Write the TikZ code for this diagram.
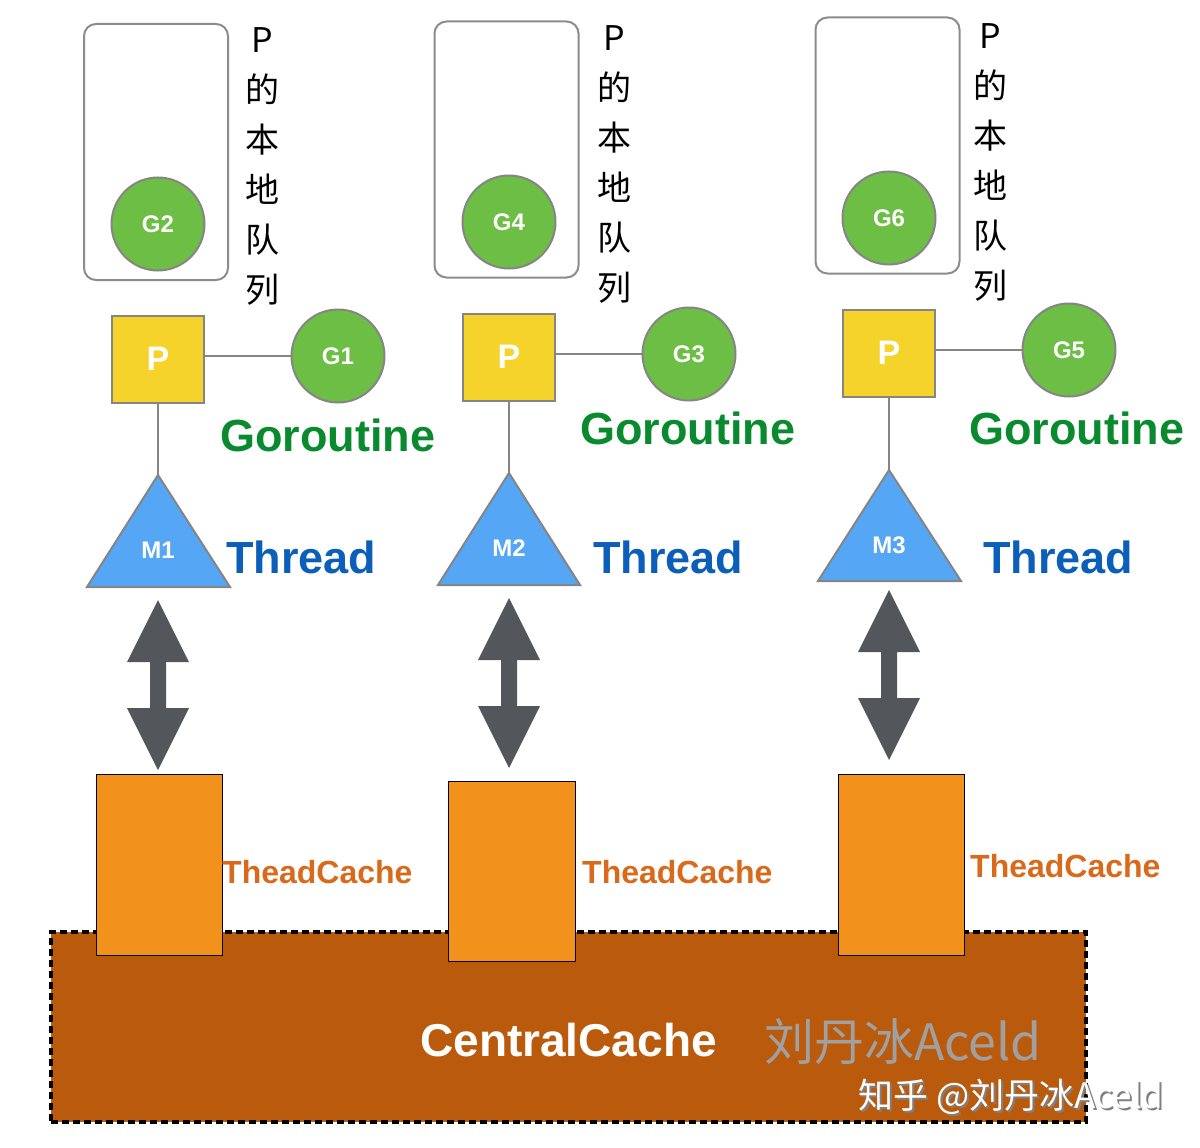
\documentclass[tikz,border=0pt]{standalone}
\usepackage{fontspec}
\setmainfont{Liberation Sans}
\newfontfamily\cjk{Noto Sans CJK SC}
\definecolor{gfill}{HTML}{6DBE45}
\definecolor{bgray}{HTML}{858585}
\definecolor{qgray}{HTML}{8C8C8C}
\definecolor{pyellow}{HTML}{F5D32A}
\definecolor{tblue}{HTML}{55A6F5}
\definecolor{gortn}{HTML}{0A8A2E}
\definecolor{thrblue}{HTML}{0B5FB8}
\definecolor{agray}{HTML}{53575B}
\definecolor{tcorange}{HTML}{F2921D}
\definecolor{tctxt}{HTML}{D9691B}
\definecolor{ccfill}{HTML}{BA5A0C}
\definecolor{wmgray}{HTML}{A0A0A0}
\newcommand\dblarr[3]{%
  \fill[agray] (#1,#2) -- (#1+31,#2+62) -- (#1+8,#2+62) -- (#1+8,#3-62) -- (#1+31,#3-62) -- (#1,#3)
    -- (#1-31,#3-62) -- (#1-8,#3-62) -- (#1-8,#2+62) -- (#1-31,#2+62) -- cycle;}
\begin{document}
\begin{tikzpicture}[x=1pt,y=-1pt,
 queue/.style={draw=qgray,line width=2pt,rounded corners=12pt,minimum width=144pt,minimum height=256pt,inner sep=0},
 gnode/.style={circle,draw=bgray,line width=2pt,fill=gfill,minimum size=93pt,inner sep=0,text=white,font=\bfseries\fontsize{24}{24}\selectfont},
 pnode/.style={draw=bgray,line width=2pt,fill=pyellow,minimum width=92pt,minimum height=87pt,inner sep=0,text=white,font=\bfseries\fontsize{34}{34}\selectfont},
 link/.style={draw=bgray,line width=2pt},
 tri/.style={draw=bgray,line width=2pt,fill=tblue,line join=miter},
 mlabel/.style={text=white,inner sep=0,font=\bfseries\fontsize{24}{24}\selectfont},
 vtext/.style={anchor=north,inner sep=0,align=center,font=\cjk\fontsize{34}{50}\selectfont},
 gortext/.style={anchor=west,inner sep=0,text=gortn,font=\bfseries\fontsize{45}{45}\selectfont},
 thrtext/.style={anchor=west,inner sep=0,text=thrblue,font=\bfseries\fontsize{45}{45}\selectfont},
 tcbox/.style={draw=black,line width=1pt,fill=tcorange,minimum width=126pt,minimum height=181pt,inner sep=0},
 tctext/.style={anchor=west,inner sep=0,text=tctxt,font=\bfseries\fontsize{32}{32}\selectfont},
 central/.style={draw=black,line width=3.5pt,dash pattern=on 7pt off 4pt,fill=ccfill,minimum width=1035pt,minimum height=190pt,inner sep=0},
]
\useasboundingbox (0,0) rectangle (1200,1148);
% ---------- central cache ----------
\node[central] (CC) at (568.5,1027) {};
\node[inner sep=0,text=white,font=\bfseries\fontsize{46}{46}\selectfont] (CCt) at (568.5,1040) {CentralCache};
\node[inner sep=0,text=wmgray,font=\cjk\fontsize{50}{50}\selectfont] (wm) at (903,1042) {刘丹冰Aceld};
\node[inner sep=0,text=gray,font=\cjk\fontsize{35}{35}\selectfont] (zh2) at (1013,1099) {知乎 @刘丹冰Aceld};
\node[inner sep=0,text=white,font=\cjk\fontsize{35}{35}\selectfont] (zh) at (1011,1097) {知乎 @刘丹冰Aceld};
% ---------- column 1 ----------
\node[queue] (Q1) at (156,152) {};
\node[gnode] (G2) at (158,224) {G2};
\node[vtext] (V1) at (262,27) {P\\的\\本\\地\\队\\列};
\node[pnode] (P1) at (158,359) {P};
\node[gnode] (G1) at (338,356) {G1};
\draw[link] (P1.east |- G1.west) -- (G1.west);
\node[gortext] (Go1) at (220,435) {Goroutine};
\draw[tri] (158,475) -- (230,587) -- (87,587) -- cycle;
\coordinate (M1apex) at (158,475);
\node[mlabel] (M1) at (158,550) {M1};
\draw[link] (P1.south) -- (M1apex);
\node[thrtext] (T1) at (226,557) {Thread};
\dblarr{158}{600}{770}
\node[tcbox] (TC1) at (159,864.5) {};
\node[tctext] (TCt1) at (222,872) {TheadCache};
% ---------- column 2 ----------
\node[queue] (Q2) at (506.5,149.5) {};
\node[gnode] (G4) at (509,222) {G4};
\node[vtext] (V2) at (614,25) {P\\的\\本\\地\\队\\列};
\node[pnode] (P2) at (509,357) {P};
\node[gnode] (G3) at (689,354) {G3};
\draw[link] (P2.east |- G3.west) -- (G3.west);
\node[gortext] (Go2) at (580,428) {Goroutine};
\draw[tri] (509,473) -- (580,585) -- (438,585) -- cycle;
\coordinate (M2apex) at (509,473);
\node[mlabel] (M2) at (509,548) {M2};
\draw[link] (P2.south) -- (M2apex);
\node[thrtext] (T2) at (593,557) {Thread};
\dblarr{509}{598}{768}
\node[tcbox,minimum width=127pt,minimum height=180pt] (TC2) at (511.5,871) {};
\node[tctext] (TCt2) at (582,872) {TheadCache};
% ---------- column 3 ----------
\node[queue] (Q3) at (887.5,145.5) {};
\node[gnode] (G6) at (889,218) {G6};
\node[vtext] (V3) at (990,23) {P\\的\\本\\地\\队\\列};
\node[pnode] (P3) at (889,353) {P};
\node[gnode] (G5) at (1069,350) {G5};
\draw[link] (P3.east |- G5.west) -- (G5.west);
\node[gortext] (Go3) at (969,428) {Goroutine};
\draw[tri] (889,470) -- (961,581) -- (818,581) -- cycle;
\coordinate (M3apex) at (889,470);
\node[mlabel] (M3) at (889,545) {M3};
\draw[link] (P3.south) -- (M3apex);
\node[thrtext] (T3) at (983,557) {Thread};
\dblarr{889}{590}{760}
\node[tcbox] (TC3) at (901,864.5) {};
\node[tctext] (TCt3) at (970,866) {TheadCache};
\end{tikzpicture}
\end{document}
